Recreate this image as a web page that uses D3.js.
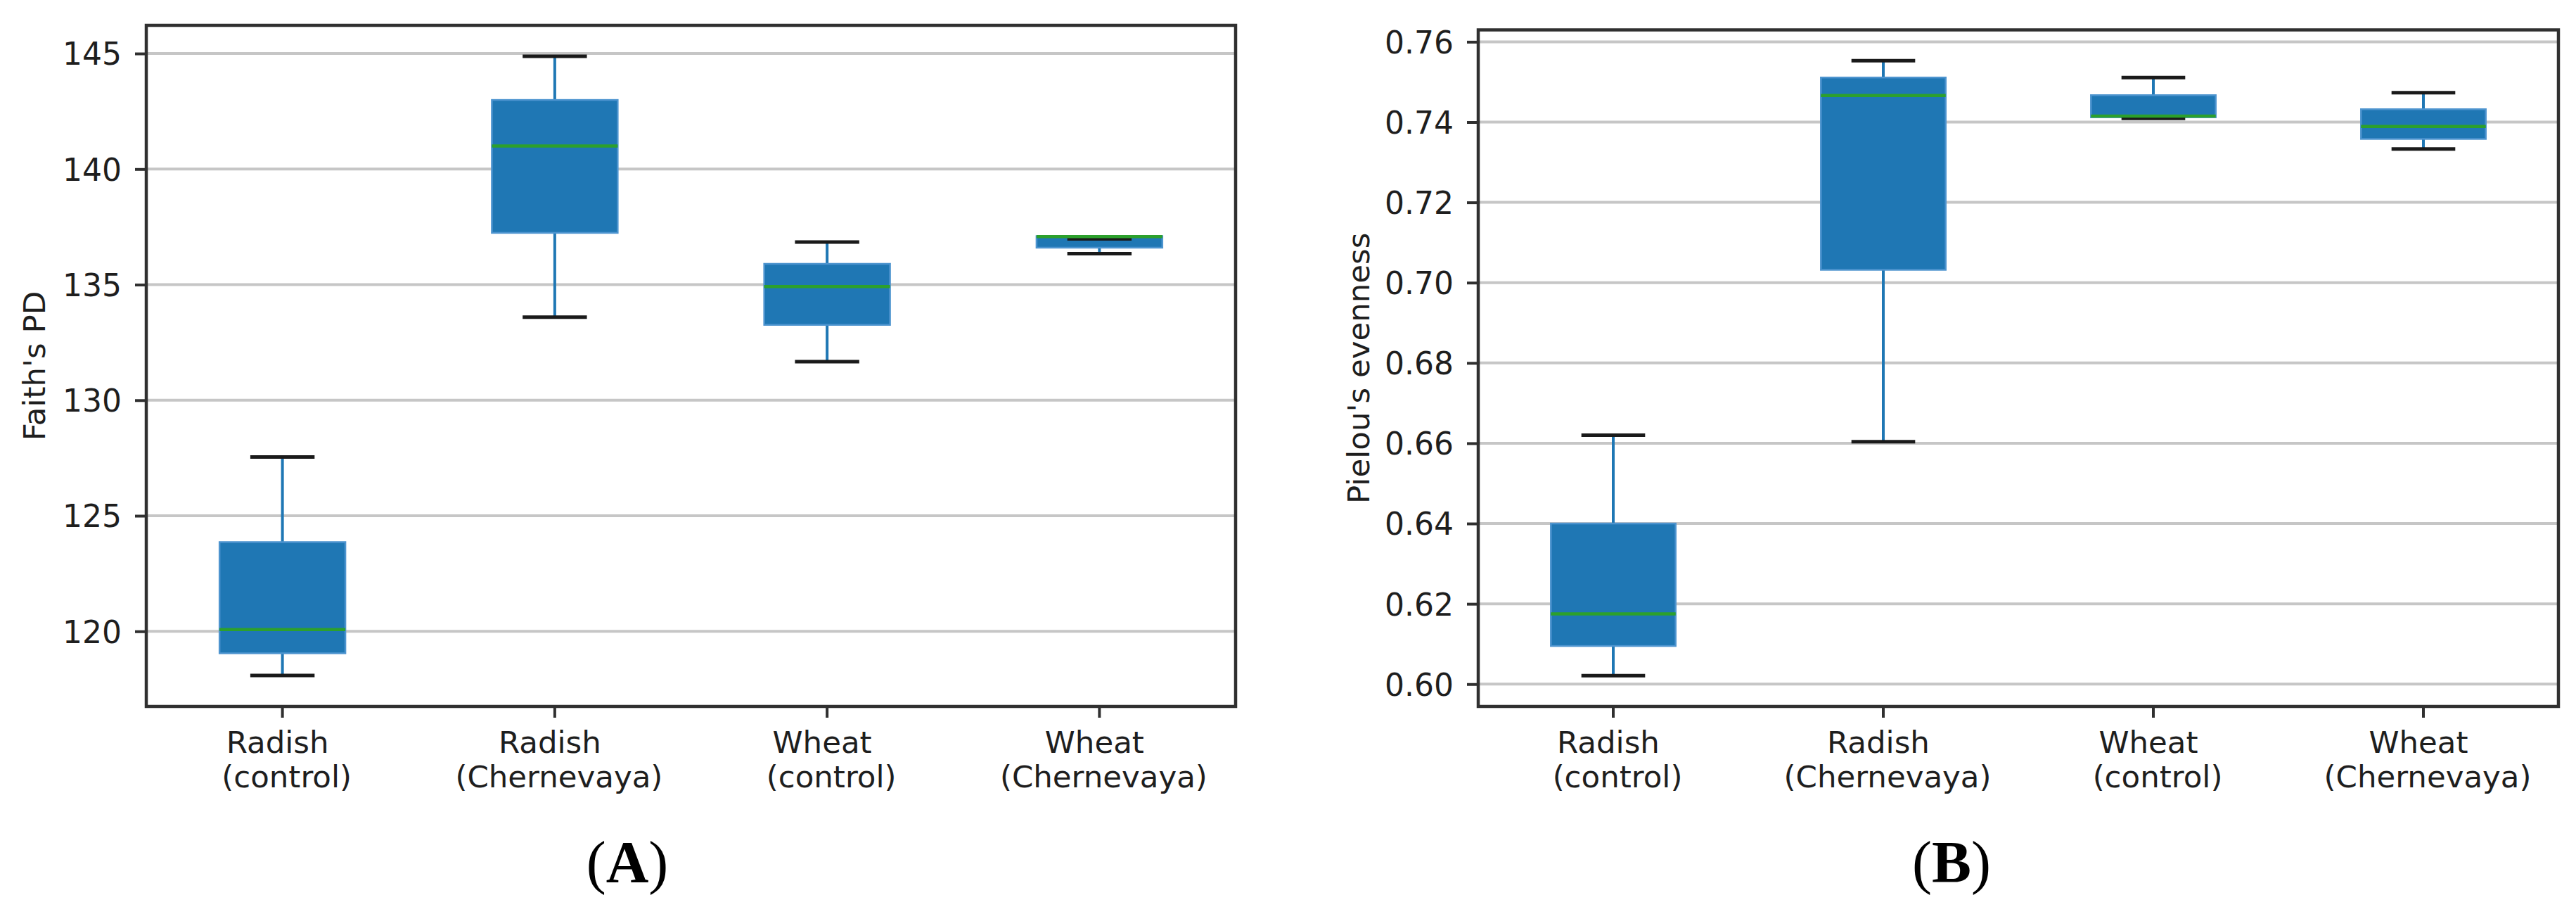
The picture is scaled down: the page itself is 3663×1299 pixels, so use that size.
<!DOCTYPE html>
<html>
<head>
<meta charset="utf-8">
<script src="https://cdn.jsdelivr.net/npm/d3@7"></script>
<style>
  html, body { margin: 0; padding: 0; background: #ffffff; }
  svg { display: block; }
</style>
</head>
<body>
<svg id="chart" width="3663" height="1299"></svg>
<script>
// ---------- DATA ----------
const catLine1 = ["Radish", "Radish", "Wheat", "Wheat"];
const catLine2 = ["(control)", "(Chernevaya)", "(control)", "(Chernevaya)"];

// Panel A: Faith's PD (box-plot statistics per category)
const faithMin = [118.09, 133.59, 131.67, 136.34];
const faithQ1  = [119.05, 137.24, 133.26, 136.60];
const faithMed = [120.08, 141.00, 134.92, 137.08];
const faithQ3  = [123.86, 142.99, 135.90, 137.10];
const faithMax = [127.54, 144.88, 136.84, 136.98];
const faithTicks = [120, 125, 130, 135, 140, 145];

// Panel B: Pielou's evenness
const pielouMin = [0.6021, 0.6604, 0.7409, 0.7333];
const pielouQ1  = [0.6095, 0.7032, 0.7412, 0.7358];
const pielouMed = [0.6175, 0.7466, 0.7415, 0.7389];
const pielouQ3  = [0.6400, 0.7511, 0.7467, 0.7432];
const pielouMax = [0.6620, 0.7553, 0.7511, 0.7473];
const pielouTicks = [0.60, 0.62, 0.64, 0.66, 0.68, 0.70, 0.72, 0.74, 0.76];

const panelLabels = ["A", "B"];
const yTitles = ["Faith's PD", "Pielou's evenness"];

// ---------- DRAWING ----------
const svg = d3.select("#chart");
svg.append("rect").attr("width", 3663).attr("height", 1299).attr("fill", "#fff");

const FONT = "'DejaVu Sans', sans-serif";
const BOX = "#1f77b4", MED = "#2ca02c", CAP = "#1a1a1a", SPINE = "#303030", GRID = "#c6c6c6";

function drawPanel(cfg) {
  const { left, right, top, bottom, mins, q1, med, q3, maxs, ticks, fmt, title, titleX, panelLabel, panelX } = cfg;
  const g = svg.append("g");
  const idx = d3.range(catLine1.length);

  const x = d3.scaleBand().domain(idx).range([left, right]).paddingInner(0).paddingOuter(0);
  const lo = d3.min(mins), hi = d3.max(maxs), pad = (hi - lo) * 0.05;
  const y = d3.scaleLinear().domain([lo - pad, hi + pad]).range([bottom, top]);
  const cx = i => x(i) + x.bandwidth() / 2;
  const boxW = x.bandwidth() * 0.462;
  const capW = x.bandwidth() * 0.236;

  // grid
  g.append("g").selectAll("line").data(ticks).join("line")
    .attr("x1", left).attr("x2", right)
    .attr("y1", d => y(d)).attr("y2", d => y(d))
    .attr("stroke", GRID).attr("stroke-width", 4);

  // whiskers
  const wg = g.append("g");
  idx.forEach(i => {
    wg.append("line").attr("x1", cx(i)).attr("x2", cx(i))
      .attr("y1", y(q3[i])).attr("y2", y(maxs[i]))
      .attr("stroke", BOX).attr("stroke-width", 4);
    wg.append("line").attr("x1", cx(i)).attr("x2", cx(i))
      .attr("y1", y(q1[i])).attr("y2", y(mins[i]))
      .attr("stroke", BOX).attr("stroke-width", 4);
  });

  // boxes
  g.append("g").selectAll("rect").data(idx).join("rect")
    .attr("x", i => cx(i) - boxW / 2)
    .attr("width", boxW)
    .attr("y", i => y(q3[i]))
    .attr("height", i => Math.max(1, y(q1[i]) - y(q3[i])))
    .attr("fill", BOX)
    .attr("stroke", "#4d94cf").attr("stroke-width", 2.5);

  // caps
  g.append("g").selectAll("line").data(idx.flatMap(i => [[i, maxs[i]], [i, mins[i]]])).join("line")
    .attr("x1", d => cx(d[0]) - capW / 2).attr("x2", d => cx(d[0]) + capW / 2)
    .attr("y1", d => y(d[1])).attr("y2", d => y(d[1]))
    .attr("stroke", CAP).attr("stroke-width", 5);

  // medians
  g.append("g").selectAll("line").data(idx).join("line")
    .attr("x1", i => cx(i) - boxW / 2).attr("x2", i => cx(i) + boxW / 2)
    .attr("y1", i => y(med[i])).attr("y2", i => y(med[i]))
    .attr("stroke", MED).attr("stroke-width", 4.5);

  // y axis
  const yAxis = d3.axisLeft(y).tickValues(ticks).tickFormat(fmt).tickSize(16).tickPadding(19);
  const ya = g.append("g").attr("transform", `translate(${left},0)`).call(yAxis);
  ya.select(".domain").remove();
  ya.selectAll(".tick line").attr("stroke", SPINE).attr("stroke-width", 4);
  ya.selectAll(".tick text").attr("font-family", FONT).attr("font-size", 44)
    .attr("fill", "#1e1e1e").attr("dy", "0.36em");

  // x axis
  const xAxis = d3.axisBottom(x).tickFormat(() => "").tickSize(16).tickPadding(0);
  const xa = g.append("g").attr("transform", `translate(0,${bottom})`).call(xAxis);
  xa.select(".domain").remove();
  xa.selectAll(".tick line").attr("stroke", SPINE).attr("stroke-width", 4);
  xa.selectAll(".tick").each(function(i) {
    const t = d3.select(this).append("text").attr("font-family", FONT).attr("font-size", 43.5)
      .attr("fill", "#1e1e1e").attr("text-anchor", "middle");
    t.append("tspan").attr("x", -7).attr("y", 66).text(catLine1[i]);
    t.append("tspan").attr("x", 6).attr("y", 115).text(catLine2[i]);
  });

  // frame (spines)
  g.append("rect").attr("x", left).attr("y", top)
    .attr("width", right - left).attr("height", bottom - top)
    .attr("fill", "none").attr("stroke", SPINE).attr("stroke-width", 4.5);

  // y title
  g.append("text")
    .attr("transform", `translate(${titleX},${(top + bottom) / 2}) rotate(-90)`)
    .attr("text-anchor", "middle").attr("font-family", FONT).attr("font-size", 43.5)
    .attr("fill", "#1e1e1e").text(title);

  // panel label
  const pl = g.append("text").attr("x", panelX).attr("y", 1254).attr("text-anchor", "middle")
    .attr("font-family", "'Liberation Serif', 'Times New Roman', serif").attr("font-size", 84).attr("fill", "#000");
  pl.append("tspan").text("(");
  pl.append("tspan").attr("font-weight", "bold").text(panelLabel);
  pl.append("tspan").text(")");
}

drawPanel({
  left: 208, right: 1757, top: 36, bottom: 1004,
  mins: faithMin, q1: faithQ1, med: faithMed, q3: faithQ3, maxs: faithMax,
  ticks: faithTicks, fmt: d3.format("d"), title: yTitles[0], titleX: 64,
  panelLabel: panelLabels[0], panelX: 892
});

drawPanel({
  left: 2102, right: 3638, top: 42.5, bottom: 1004,
  mins: pielouMin, q1: pielouQ1, med: pielouMed, q3: pielouQ3, maxs: pielouMax,
  ticks: pielouTicks, fmt: d3.format(".2f"), title: yTitles[1], titleX: 1947,
  panelLabel: panelLabels[1], panelX: 2775
});
</script>
</body>
</html>
